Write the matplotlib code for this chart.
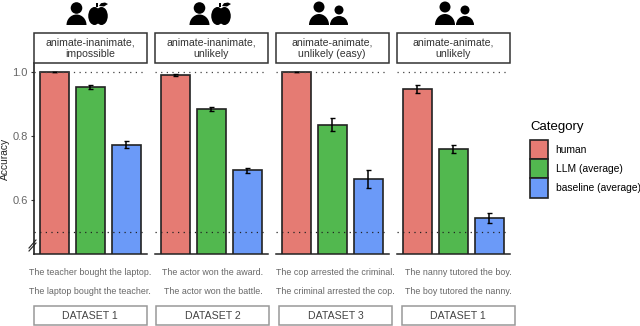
"""Accuracy per condition: human, LLM and baseline bars in four panels."""
import matplotlib
matplotlib.use("Agg")
import matplotlib.pyplot as plt
from matplotlib.patches import Circle, Ellipse, Patch, Polygon, Rectangle

plt.rcParams["font.family"] = ["Liberation Sans", "DejaVu Sans"]

W, H = 640, 326

categories = ["human", "LLM (average)", "baseline (average)"]
colors = ["#E57B73", "#52B84F", "#6B9AF8"]

conditions = [
    "animate-inanimate,\nimpossible",
    "animate-inanimate,\nunlikely",
    "animate-animate,\nunlikely (easy)",
    "animate-animate,\nunlikely",
]
accuracy = [
    [1.0, 0.953, 0.773],
    [0.99, 0.884, 0.692],
    [1.0, 0.835, 0.665],
    [0.946, 0.76, 0.543],
]
errors = [
    [0.0, 0.006, 0.012],
    [0.003, 0.005, 0.007],
    [0.0, 0.02, 0.027],
    [0.012, 0.013, 0.015],
]
sentences_top = [
    "The teacher bought the laptop.",
    "The actor won the award.",
    "The cop arrested the criminal.",
    "The nanny tutored the boy.",
]
sentences_bottom = [
    "The laptop bought the teacher.",
    "The actor won the battle.",
    "The criminal arrested the cop.",
    "The boy tutored the nanny.",
]
datasets = ["DATASET 1", "DATASET 2", "DATASET 3", "DATASET 1"]
yticks = [0.6, 0.8, 1.0]

panel_left = [33.5, 154.5, 275.5, 396.5]
panel_width = 113.5
sentence_x = [90, 213, 335.5, 458]
dataset_left = [33.5, 156, 279, 401.5]

fig = plt.figure(figsize=(W / 100, H / 100), dpi=100)


def add_person(ax, x, head_y, head_r, body_w, body_top, body_bottom):
    ax.add_patch(Circle((x, head_y), head_r, color="black", lw=0))
    body = Ellipse((x, body_bottom), body_w, 2 * (body_bottom - body_top), color="black", lw=0)
    ax.add_patch(body)
    # keep only the upper half of the body
    body.set_clip_path(Rectangle((x - body_w, body_top - 1), 2 * body_w, body_bottom - body_top + 1,
                                 transform=ax.transData))


def add_apple(ax, x):
    ax.add_patch(Ellipse((x - 3.5, 16), 12.5, 18, color="black", lw=0))
    ax.add_patch(Ellipse((x + 3.5, 16), 12.5, 18, color="black", lw=0))
    ax.add_patch(Polygon([(x + 1, 6), (x + 3, 3.2), (x + 7, 2.5), (x + 10, 4), (x + 6, 6.5)],
                         color="black", lw=0))
    ax.add_patch(Rectangle((x - 1.6, 3), 1.2, 4, color="black", lw=0))


# Panels
for i in range(4):
    ax = fig.add_axes([panel_left[i] / W, 1 - 254 / H, panel_width / W, 191 / H])
    ax.bar(range(3), accuracy[i], width=0.8, color=colors, edgecolor="#222222",
           linewidth=1.2, yerr=errors[i], zorder=2,
           error_kw=dict(ecolor="black", elinewidth=1.1, capsize=1.8, capthick=1))
    ax.axhline(1.0, color="#444444", lw=0.9, ls=(0, (1, 3.5)), zorder=3)
    ax.axhline(0.5, color="#222222", lw=0.9, ls=(0, (1, 3.5)), zorder=3)
    ax.set_xlim(-0.583, 2.57)
    ax.set_ylim(0.431, 1.028)
    ax.set_xticks([])
    ax.set_yticks(yticks if i == 0 else [])
    ax.set_yticklabels(["0.6", "0.8", "1.0"] if i == 0 else [])
    ax.tick_params(axis="y", labelsize=8, labelcolor="#666666", color="#333333",
                   length=2.5, width=0.8, pad=1.5)
    for side in ["top", "right"]:
        ax.spines[side].set_visible(False)
    ax.spines["left"].set_visible(i == 0)
    ax.spines["left"].set_linewidth(1.2)
    ax.spines["left"].set_color("#222222")
    ax.spines["bottom"].set_linewidth(1.1)
    ax.spines["bottom"].set_color("#222222")

# Overlay in pixel coordinates for strips, sentences, icons
ov = fig.add_axes([0, 0, 1, 1], facecolor="none")
ov.set_xlim(0, W)
ov.set_ylim(H, 0)
ov.axis("off")

ov.text(5, 159, "Accuracy", rotation=90, ha="center", va="center", fontsize=7.4, color="#222222")

for i in range(4):
    ov.add_patch(Rectangle((panel_left[i], 33), panel_width, 30, facecolor="white",
                           edgecolor="#333333", lw=1.1))
    ov.text(panel_left[i] + panel_width / 2, 48.5, conditions[i], ha="center", va="center",
            fontsize=7.6, color="#333333", linespacing=1.15)
    ov.text(sentence_x[i], 272.5, sentences_top[i], ha="center", va="center",
            fontsize=6.4, color="#666666")
    ov.text(sentence_x[i], 291, sentences_bottom[i], ha="center", va="center",
            fontsize=6.4, color="#666666")
    ov.add_patch(Rectangle((dataset_left[i], 306), 113, 19, facecolor="white",
                           edgecolor="#999999", lw=1.1))
    ov.text(dataset_left[i] + 56.5, 315.8, datasets[i], ha="center", va="center",
            fontsize=7.6, color="#444444")

# Axis break
for dy in [0, 3]:
    ov.plot([29, 36], [248 + dy, 240 + dy], color="#222222", lw=0.8)

# Icons
for x in [76.5, 199.5]:
    add_person(ov, x, 8, 5.8, 20, 14.5, 25)
    add_apple(ov, x + 21.5)
for x in [319, 445]:
    add_person(ov, x, 7, 5.5, 20, 14, 25)
    add_person(ov, x + 20, 10, 4.5, 18, 16, 25)

# Legend
handles = [Patch(facecolor=c, edgecolor="#222222", linewidth=1.2) for c in colors]
leg = fig.legend(handles, categories, title="Category", loc="upper left",
                 bbox_to_anchor=(530 / W, 1 - 121 / H), frameon=False, fontsize=7.4,
                 title_fontsize=9.5, handlelength=1.75, handleheight=2.5,
                 labelspacing=0.0, handletextpad=0.75, borderpad=0, borderaxespad=0,
                 alignment="left")
leg._legend_box.sep = 5

fig.savefig("out.png", dpi=100)
